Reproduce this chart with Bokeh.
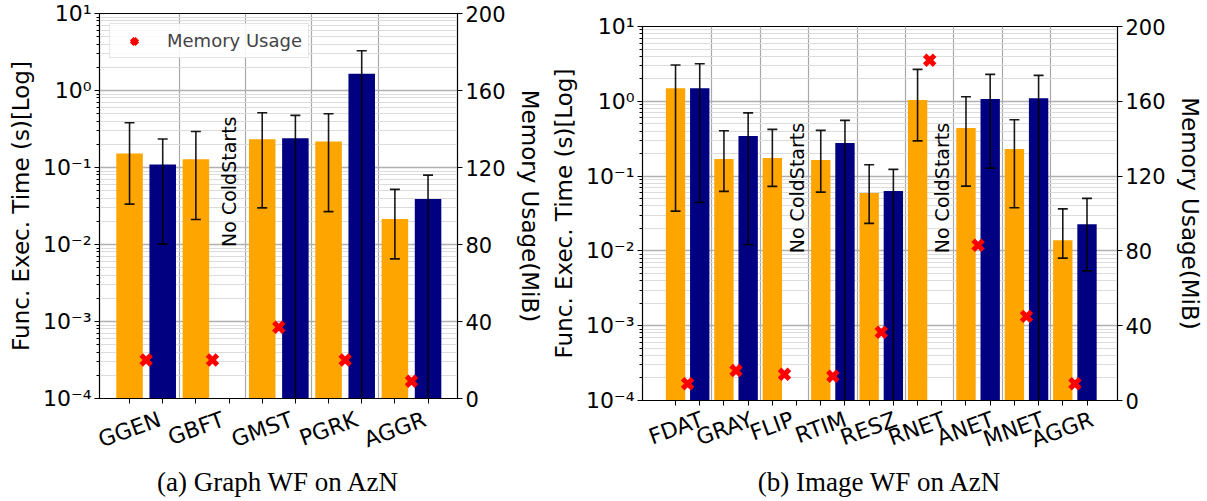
import math
from bokeh.plotting import figure
from bokeh.models import (Range1d, LinearAxis, LinearScale, FixedTicker, CustomJSTickFormatter,
                          Legend, LegendItem, Spacer)
from bokeh.layouts import row, column
from bokeh.embed import file_html
from bokeh.resources import INLINE
from bokeh.core.properties import value

# ---------------- data ----------------
# (a) Graph WF on AzN
graph_funcs = ["GGEN", "GBFT", "GMST", "PGRK", "AGGR"]
graph_warm_mean = [0.152, 0.128, 0.232, 0.218, 0.0215]
graph_warm_low = [0.0334, 0.0211, 0.0299, 0.0267, 0.0065]
graph_warm_high = [0.381, 0.294, 0.513, 0.498, 0.052]
graph_cold_mean = [0.109, None, 0.239, 1.65, 0.039]
graph_cold_low = [0.0101, None, 0.0, 0.0, 0.0]      # 0 -> lower bound below the log axis
graph_cold_high = [0.234, None, 0.475, 3.29, 0.0796]
graph_mem = [20, 20, 37, 20, 9]

# (b) Image WF on AzN
image_funcs = ["FDAT", "GRAY", "FLIP", "RTIM", "RESZ", "RNET", "ANET", "MNET", "AGGR"]
image_warm_mean = [1.50, 0.169, 0.174, 0.164, 0.0593, 1.04, 0.439, 0.230, 0.0139]
image_warm_low = [0.034, 0.0624, 0.0728, 0.0611, 0.0233, 0.296, 0.0735, 0.0377, 0.0080]
image_warm_high = [3.05, 0.404, 0.421, 0.408, 0.1416, 2.67, 1.15, 0.566, 0.0365]
image_cold_mean = [1.50, 0.343, None, 0.276, 0.063, None, 1.07, 1.10, 0.0228]
image_cold_low = [0.0445, 0.0121, None, 0.0, 0.0, None, 0.128, 0.0, 0.0054]
image_cold_high = [3.17, 0.70, None, 0.556, 0.123, None, 2.29, 2.22, 0.0503]
image_mem = [9, 16, 14, 13, 36.5, 182, 83, 45, 9]

decades = [1e-4, 1e-3, 1e-2, 1e-1, 1e0, 1e1]
mem_ticks = [0, 40, 80, 120, 160, 200]

FONT = "DejaVu Sans"
TICK_PX = 22
ROT = math.radians(20)
# DejaVu Sans advance widths (em) used to centre the rotated category labels
EM = {"A": .684, "B": .686, "C": .698, "D": .770, "E": .632, "F": .575, "G": .775,
      "H": .752, "I": .295, "K": .656, "L": .557, "M": .863, "N": .748, "P": .603,
      "R": .695, "S": .635, "T": .611, "Y": .611, "Z": .685}

SUP_JS = """
const sup = {"-":"\\u207b","0":"\\u2070","1":"\\u00b9","2":"\\u00b2","3":"\\u00b3",
             "4":"\\u2074","5":"\\u2075","6":"\\u2076","7":"\\u2077","8":"\\u2078","9":"\\u2079"};
const e = Math.round(Math.log10(tick)).toString();
let s = "10";
for (const c of e) { s += sup[c]; }
return s;
"""
CAT_JS = """
let best = 0, bd = 1e9;
for (let i = 0; i < pos.length; i++) {
  const d = Math.abs(pos[i] - tick);
  if (d < bd) { bd = d; best = i; }
}
return names[best];
"""


def panel(funcs, wm, wl, wh, cm, cl, ch, mem, caption, width, height,
          borders, xr, legend, lab_standoff):
    n = len(funcs)
    ymin, ymax = decades[0], decades[-1]
    p = figure(width=width, height=height, y_axis_type="log",
               x_range=Range1d(*xr), y_range=Range1d(ymin, ymax),
               output_backend="svg", toolbar_location=None,
               min_border_left=borders[0], min_border_right=borders[1],
               min_border_top=borders[2], min_border_bottom=borders[3])
    p.outline_line_color = "black"
    p.outline_line_width = 1.2
    p.background_fill_color = "white"
    p.border_fill_color = "white"

    # left log axis
    ya = p.yaxis[0]
    minors = [m * d for d in decades[:-1] for m in range(2, 10)]
    ya.ticker = FixedTicker(ticks=decades, minor_ticks=minors)
    ya.formatter = CustomJSTickFormatter(code=SUP_JS)
    ya.axis_label = "Func. Exec. Time (s)[Log]"
    ya.axis_label_text_font = FONT
    ya.axis_label_text_font_size = "23px"
    ya.axis_label_text_font_style = "normal"
    ya.axis_label_text_color = "black"
    ya.axis_label_standoff = 6
    ya.major_label_text_font = FONT
    ya.major_label_text_font_size = f"{TICK_PX}px"
    ya.major_label_text_color = "black"
    ya.major_label_standoff = 3
    ya.major_tick_in = 0
    ya.major_tick_out = 5
    ya.minor_tick_in = 0
    ya.minor_tick_out = 3
    ya.axis_line_color = "black"

    # bottom axis: minor ticks at every bar, rotated labels centred on the orange bar
    fw = width - borders[0] - borders[1]
    ppu = fw / (xr[1] - xr[0])
    anchors = []
    for i, f in enumerate(funcs):
        w = sum(EM.get(c, 0.65) for c in f) * TICK_PX
        anchors.append(2 * i + (w / 2) * math.cos(ROT) / ppu)
    xa = p.xaxis[0]
    xa.ticker = FixedTicker(ticks=anchors, minor_ticks=list(range(2 * n)))
    xa.formatter = CustomJSTickFormatter(args=dict(pos=anchors, names=funcs), code=CAT_JS)
    xa.major_label_orientation = ROT
    xa.major_label_text_font = FONT
    xa.major_label_text_font_size = f"{TICK_PX}px"
    xa.major_label_text_color = "black"
    xa.major_label_standoff = lab_standoff
    xa.major_tick_in = 0
    xa.major_tick_out = 0
    xa.minor_tick_out = 5
    xa.minor_tick_in = 0
    xa.minor_tick_line_color = "black"
    xa.axis_line_color = "black"
    xa.axis_label = caption
    xa.axis_label_text_font = "Liberation Serif"
    xa.axis_label_text_font_size = "27px"
    xa.axis_label_text_font_style = "normal"
    xa.axis_label_text_color = "black"
    xa.axis_label_standoff = 0

    # grids
    p.xgrid[0].axis = None
    p.xgrid[0].ticker = FixedTicker(ticks=[2 * i + 1.5 for i in range(n - 1)])
    p.xgrid[0].grid_line_color = "#a8a8a8"
    p.xgrid[0].grid_line_width = 1.2
    p.ygrid[0].grid_line_color = "#b0b0b0"
    p.ygrid[0].grid_line_width = 1.3
    p.ygrid[0].minor_grid_line_color = "#dcdcdc"
    p.ygrid[0].minor_grid_line_width = 1

    # right memory axis (linear)
    p.extra_y_ranges = {"mem": Range1d(0, 200)}
    p.extra_y_scales = {"mem": LinearScale()}
    ra = LinearAxis(y_range_name="mem", ticker=FixedTicker(ticks=mem_ticks),
                    axis_label="Memory Usage(MiB)")
    ra.axis_label_text_font = FONT
    ra.axis_label_text_font_size = "23px"
    ra.axis_label_text_font_style = "normal"
    ra.axis_label_text_color = "black"
    ra.axis_label_standoff = 8
    ra.major_label_text_font = FONT
    ra.major_label_text_font_size = "21px"
    ra.major_label_text_color = "black"
    ra.major_label_standoff = 3
    ra.major_tick_in = 0
    ra.major_tick_out = 5
    ra.minor_tick_in = 0
    ra.minor_tick_out = 0
    ra.axis_line_color = "black"
    p.add_layout(ra, "right")

    below = ymin / 100.0
    # bars
    wx = [2 * i for i in range(n)]
    p.vbar(x=wx, top=wm, bottom=below, width=0.8, fill_color="orange", line_color=None)
    cx = [2 * i + 1 for i in range(n) if cm[i] is not None]
    ctop = [cm[i] for i in range(n) if cm[i] is not None]
    p.vbar(x=cx, top=ctop, bottom=below, width=0.8, fill_color="navy", line_color=None)

    # error bars
    ex, elo, ehi = [], [], []
    for i in range(n):
        ex.append(2 * i); elo.append(wl[i]); ehi.append(wh[i])
        if cm[i] is not None:
            ex.append(2 * i + 1); elo.append(cl[i]); ehi.append(ch[i])
    seg_lo = [v if v > 0 else below for v in elo]
    p.segment(x0=ex, y0=seg_lo, x1=ex, y1=ehi, line_color="black", line_width=1.6, line_alpha=0.9)
    capx = ex + [x for x, v in zip(ex, elo) if v > 0]
    capy = ehi + [v for v in elo if v > 0]
    p.scatter(x=capx, y=capy, marker="dash", size=10, line_color="black",
              line_width=1.6, line_alpha=0.9)

    # "No ColdStarts"
    nx = [2 * i + 1 for i in range(n) if cm[i] is None]
    p.text(x=nx, y=[0.0093] * len(nx), text=["No ColdStarts"] * len(nx), angle=math.pi / 2,
           text_align="left", text_baseline="middle", text_font=value(FONT),
           text_font_size="19px", text_color="black")

    # memory markers
    mx = [2 * i + 0.5 for i in range(n)]
    mr = p.scatter(x=mx, y=mem, y_range_name="mem", marker="x", size=14,
                   line_color="red", line_width=5)

    if legend:
        lg = Legend(items=[LegendItem(label="Memory Usage", renderers=[mr])],
                    location="top_left", margin=10, padding=6, spacing=0,
                    glyph_width=36, glyph_height=20, label_standoff=15,
                    label_text_font=FONT, label_text_font_size="18px",
                    border_line_color="#cccccc", border_line_width=1,
                    background_fill_color="white", background_fill_alpha=0.85)
        p.add_layout(lg)
    return p


left = panel(graph_funcs, graph_warm_mean, graph_warm_low, graph_warm_high,
             graph_cold_mean, graph_cold_low, graph_cold_high, graph_mem,
             "(a) Graph WF on AzN", 548, 500, (99, 91, 13, 101), (-0.906, 9.888), True, 15)
right = panel(image_funcs, image_warm_mean, image_warm_low, image_warm_high,
              image_cold_mean, image_cold_low, image_cold_high, image_mem,
              "(b) Image WF on AzN", 657, 487, (89, 82, 13, 100), (-1.365, 18.26), False, 13)

layout = row(left, column(Spacer(width=657, height=13), right))
open("out.html", "w").write(file_html(layout, INLINE))
